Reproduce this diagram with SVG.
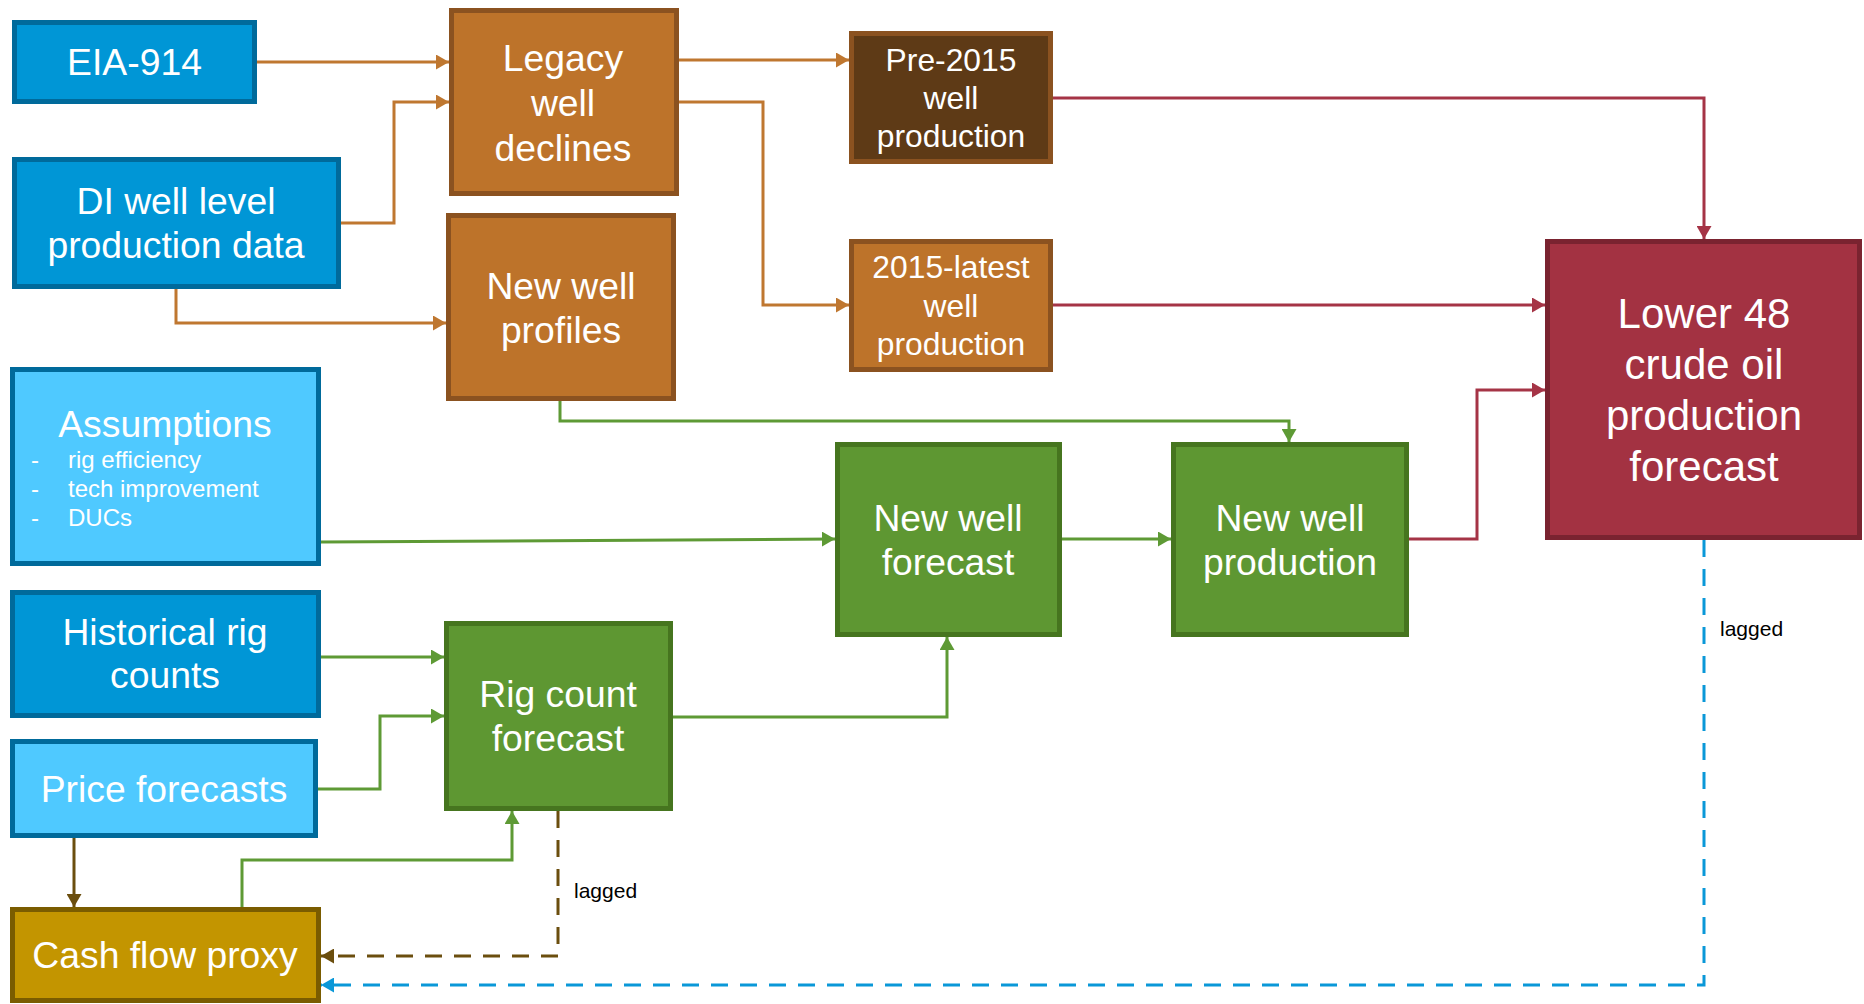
<svg xmlns="http://www.w3.org/2000/svg" width="1864" height="1004" viewBox="0 0 1864 1004">
<style>
text{font-family:"Liberation Sans",Arial,sans-serif;fill:#fff;text-anchor:middle}
.t36{font-size:37.3px}
.t31{font-size:31.8px}
.t42{font-size:42px}
.t24{font-size:24px;text-anchor:start}
.lab{font-size:21px;fill:#000;text-anchor:start}
.n rect{stroke-width:5}
.dblue rect{fill:#0096D6;stroke:#006A9B}
.lblue rect{fill:#4FC9FF;stroke:#006A9B}
.orange rect{fill:#BD732A;stroke:#8B5220}
.dbrown rect{fill:#5E3A16;stroke:#8B5220}
.green rect{fill:#5E9732;stroke:#46751F}
.red rect{fill:#A33242;stroke:#7A2330}
.gold rect{fill:#C39500;stroke:#7A5C00}
.c path{fill:none;stroke-width:3}
.co{stroke:#BF7730}
.cr{stroke:#A53446}
.cg{stroke:#5E9A35}
.cb{stroke:#6B4E0E}
.cd{stroke-dasharray:17 12;stroke-width:4.5}
.cbl{stroke:#0A98D8}
</style>
<defs>
<marker id="ao" markerUnits="userSpaceOnUse" markerWidth="13" markerHeight="15" refX="13" refY="7.5" orient="auto"><path d="M0,0 L13,7.5 L0,15 z" fill="#BF7730"/></marker>
<marker id="ar" markerUnits="userSpaceOnUse" markerWidth="13" markerHeight="15" refX="13" refY="7.5" orient="auto"><path d="M0,0 L13,7.5 L0,15 z" fill="#A53446"/></marker>
<marker id="ag" markerUnits="userSpaceOnUse" markerWidth="13" markerHeight="15" refX="13" refY="7.5" orient="auto"><path d="M0,0 L13,7.5 L0,15 z" fill="#5E9A35"/></marker>
<marker id="ab" markerUnits="userSpaceOnUse" markerWidth="13" markerHeight="15" refX="13" refY="7.5" orient="auto"><path d="M0,0 L13,7.5 L0,15 z" fill="#6B4E0E"/></marker>
<marker id="abl" markerUnits="userSpaceOnUse" markerWidth="13" markerHeight="15" refX="13" refY="7.5" orient="auto"><path d="M0,0 L13,7.5 L0,15 z" fill="#0A98D8"/></marker>
</defs>
<rect width="1864" height="1004" fill="#fff"/>

<g id="eia914" class="n dblue"><rect x="14.5" y="22.5" width="240" height="79"/><text class="t36" x="134.5" y="75">EIA-914</text></g>
<g id="di" class="n dblue"><rect x="14.5" y="159.5" width="324" height="127"/><text class="t36" x="176" y="214">DI well level</text><text class="t36" x="176" y="258">production data</text></g>
<g id="legacy" class="n orange"><rect x="451.5" y="10.5" width="225" height="183"/><text class="t36" x="563" y="71">Legacy</text><text class="t36" x="563" y="116">well</text><text class="t36" x="563" y="161">declines</text></g>
<g id="newprofiles" class="n orange"><rect x="448.5" y="215.5" width="225" height="183"/><text class="t36" x="561" y="299">New well</text><text class="t36" x="561" y="343">profiles</text></g>
<g id="pre2015" class="n dbrown"><rect x="851.5" y="33.5" width="199" height="128"/><text class="t31" x="951" y="71">Pre-2015</text><text class="t31" x="951" y="109">well</text><text class="t31" x="951" y="147">production</text></g>
<g id="latest" class="n orange"><rect x="851.5" y="241.5" width="199" height="128"/><text class="t31" x="951" y="278">2015-latest</text><text class="t31" x="951" y="317">well</text><text class="t31" x="951" y="355">production</text></g>
<g id="lower48" class="n red"><rect x="1547.5" y="241.5" width="312" height="296"/><text class="t42" x="1704" y="328">Lower 48</text><text class="t42" x="1704" y="379">crude oil</text><text class="t42" x="1704" y="430">production</text><text class="t42" x="1704" y="481">forecast</text></g>
<g id="assumptions" class="n lblue"><rect x="12.5" y="369.5" width="306" height="194"/><text class="t36" x="165" y="437">Assumptions</text><text class="t24" x="31" y="468">-</text><text class="t24" x="68" y="468">rig efficiency</text><text class="t24" x="31" y="497">-</text><text class="t24" x="68" y="497">tech improvement</text><text class="t24" x="31" y="526">-</text><text class="t24" x="68" y="526">DUCs</text></g>
<g id="nwforecast" class="n green"><rect x="837.5" y="444.5" width="222" height="190"/><text class="t36" x="948" y="531">New well</text><text class="t36" x="948" y="575">forecast</text></g>
<g id="nwproduction" class="n green"><rect x="1173.5" y="444.5" width="233" height="190"/><text class="t36" x="1290" y="531">New well</text><text class="t36" x="1290" y="575">production</text></g>
<g id="historical" class="n dblue"><rect x="12.5" y="592.5" width="306" height="123"/><text class="t36" x="165" y="645">Historical rig</text><text class="t36" x="165" y="688">counts</text></g>
<g id="rigcount" class="n green"><rect x="446.5" y="623.5" width="224" height="185"/><text class="t36" x="558" y="707">Rig count</text><text class="t36" x="558" y="751">forecast</text></g>
<g id="price" class="n lblue"><rect x="12.5" y="741.5" width="303" height="94"/><text class="t36" x="164" y="802">Price forecasts</text></g>
<g id="cashflow" class="n gold"><rect x="12.5" y="909.5" width="306" height="91"/><text class="t36" x="165" y="968">Cash flow proxy</text></g>

<g id="connectors" class="c">
<path class="co" d="M257,62 H449" marker-end="url(#ao)"/>
<path class="co" d="M341,223 H394 V102 H449" marker-end="url(#ao)"/>
<path class="co" d="M176,289 V323 H446" marker-end="url(#ao)"/>
<path class="co" d="M679,60 H849" marker-end="url(#ao)"/>
<path class="co" d="M679,102 H763 V305 H849" marker-end="url(#ao)"/>
<path class="cr" d="M1053,98 H1704 V239" marker-end="url(#ar)"/>
<path class="cr" d="M1053,305 H1545" marker-end="url(#ar)"/>
<path class="cr" d="M1409,539 H1477 V390 H1545" marker-end="url(#ar)"/>
<path class="cg" d="M560,401 V421 H1289 V442" marker-end="url(#ag)"/>
<path class="cg" d="M321,542 L835,539" marker-end="url(#ag)"/>
<path class="cg" d="M1062,539 H1171" marker-end="url(#ag)"/>
<path class="cg" d="M321,657 H444" marker-end="url(#ag)"/>
<path class="cg" d="M318,789 H380 V716 H444" marker-end="url(#ag)"/>
<path class="cg" d="M673,717 H947 V637" marker-end="url(#ag)"/>
<path class="cg" d="M242,907 V860 H512 V811" marker-end="url(#ag)"/>
<path class="cb" d="M74,838 V907" marker-end="url(#ab)"/>
<path class="cb cd" d="M558,811 V956 H321" marker-end="url(#ab)"/>
<path class="cbl cd" d="M1704,540 V985 H321" marker-end="url(#abl)"/>
<text class="lab" x="574" y="898">lagged</text>
<text class="lab" x="1720" y="636">lagged</text>
</g>
</svg>
